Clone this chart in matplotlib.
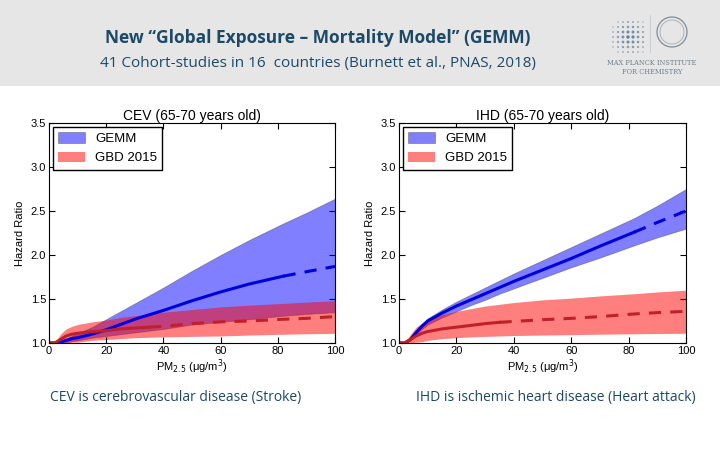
import numpy as np
import matplotlib.pyplot as plt
from matplotlib.patches import Rectangle, Ellipse
from matplotlib.lines import Line2D

# PM2.5 grid (ug/m3)
pm = [0, 2, 4, 6, 8, 10, 15, 20, 25, 30, 35, 40, 50, 60, 70, 82, 90, 100]

# CEV (stroke), 65-70 years
cev_gemm = [1.0, 1.0, 1.01, 1.03, 1.05, 1.06, 1.10, 1.15, 1.21, 1.27, 1.32, 1.37, 1.48, 1.58, 1.67, 1.76, 1.81, 1.87]
cev_gemm_lo = [1.0, 1.0, 1.0, 1.01, 1.02, 1.03, 1.06, 1.08, 1.10, 1.12, 1.14, 1.16, 1.21, 1.24, 1.27, 1.31, 1.33, 1.35]
cev_gemm_hi = [1.0, 1.0, 1.02, 1.05, 1.08, 1.11, 1.18, 1.27, 1.36, 1.45, 1.54, 1.63, 1.82, 2.0, 2.17, 2.36, 2.48, 2.64]
cev_gbd = [1.0, 1.0, 1.04, 1.08, 1.10, 1.11, 1.13, 1.14, 1.16, 1.17, 1.18, 1.19, 1.22, 1.24, 1.25, 1.27, 1.28, 1.30]
cev_gbd_lo = [1.0, 1.0, 1.0, 1.0, 1.01, 1.01, 1.03, 1.04, 1.05, 1.06, 1.065, 1.07, 1.075, 1.08, 1.09, 1.10, 1.105, 1.11]
cev_gbd_hi = [1.0, 1.0, 1.10, 1.16, 1.19, 1.21, 1.24, 1.26, 1.29, 1.31, 1.33, 1.35, 1.38, 1.41, 1.43, 1.45, 1.465, 1.48]

# IHD (heart attack), 65-70 years
ihd_gemm = [1.0, 1.0, 1.04, 1.12, 1.19, 1.25, 1.34, 1.42, 1.49, 1.56, 1.63, 1.70, 1.83, 1.96, 2.10, 2.26, 2.37, 2.50]
ihd_gemm_lo = [1.0, 1.0, 1.03, 1.10, 1.16, 1.21, 1.29, 1.36, 1.43, 1.49, 1.56, 1.62, 1.74, 1.86, 1.97, 2.11, 2.20, 2.30]
ihd_gemm_hi = [1.0, 1.0, 1.05, 1.14, 1.21, 1.28, 1.38, 1.47, 1.55, 1.63, 1.71, 1.79, 1.94, 2.09, 2.24, 2.42, 2.56, 2.75]
ihd_gbd = [1.0, 1.0, 1.04, 1.08, 1.11, 1.13, 1.16, 1.18, 1.20, 1.22, 1.235, 1.245, 1.265, 1.28, 1.30, 1.33, 1.345, 1.36]
ihd_gbd_lo = [1.0, 1.0, 1.0, 1.01, 1.015, 1.03, 1.05, 1.06, 1.07, 1.075, 1.08, 1.085, 1.09, 1.095, 1.10, 1.105, 1.108, 1.11]
ihd_gbd_hi = [1.0, 1.0, 1.10, 1.18, 1.23, 1.27, 1.32, 1.36, 1.39, 1.42, 1.44, 1.46, 1.49, 1.51, 1.535, 1.56, 1.58, 1.60]

gemm_cut = 82   # solid line up to here, dashed after
gbd_cut = 35

navy = '#1c4966'
W, H = 720.0, 450.0

fig = plt.figure(figsize=(7.2, 4.5), dpi=100)
fig.patch.set_facecolor('white')

# slide header
fig.patches.append(Rectangle((0, 1 - 86 / H), 1, 86 / H, transform=fig.transFigure,
                             facecolor='#e6e6e6', edgecolor='none', zorder=0))
fig.text(318 / W, 1 - 38 / H, 'New \u201cGlobal Exposure \u2013 Mortality Model\u201d (GEMM)',
         ha='center', va='center', fontsize=12.5, fontweight='bold', color=navy, family='Open Sans')
fig.text(318 / W, 1 - 63 / H, '41 Cohort-studies in 16  countries (Burnett et al., PNAS, 2018)',
         ha='center', va='center', fontsize=11, color=navy, family='Open Sans')

# rough logo
fig.text(652 / W, 1 - 63 / H, 'MAX PLANCK INSTITUTE', ha='center', va='center',
         fontsize=4.8, color='#6f7d8a', family='DejaVu Serif')
fig.text(652 / W, 1 - 72 / H, 'FOR CHEMISTRY', ha='center', va='center',
         fontsize=4.8, color='#6f7d8a', family='DejaVu Serif')
fig.patches.append(Ellipse((672 / W, 1 - 32 / H), 30 / W, 30 / H, transform=fig.transFigure,
                           facecolor='none', edgecolor='#7f8d9a', lw=0.9))
fig.patches.append(Ellipse((672 / W, 1 - 32 / H), 24 / W, 24 / H, transform=fig.transFigure,
                           facecolor='none', edgecolor='#a0aab4', lw=0.6))
fig.lines.append(Line2D([650 / W, 650 / W], [1 - 15 / H, 1 - 52 / H], transform=fig.transFigure,
                        color='#c4cbd2', lw=0.6))
for i in range(7):
    for j in range(7):
        d = np.hypot(i - 3.3, j - 3) / 4.2
        if d > 1:
            continue
        fig.patches.append(Ellipse(((613 + 5 * i) / W, 1 - (22 + 5 * j) / H),
                                   (3.6 - 2.2 * d) / W, (3.6 - 2.2 * d) / H,
                                   transform=fig.transFigure, facecolor='#4f6f8f',
                                   alpha=0.9 - 0.5 * d, edgecolor='none'))


def panel(ax, title, gemm, glo, ghi, gbd, blo, bhi):
    x = np.array(pm)
    ax.fill_between(x, glo, ghi, facecolor='blue', alpha=0.5, edgecolor='0.3', lw=0.6, label='GEMM')
    ax.fill_between(x, blo, bhi, color='red', alpha=0.5, lw=0, label='GBD 2015')
    gemm = np.array(gemm)
    gbd = np.array(gbd)
    m = x <= gemm_cut
    ax.plot(x[m], gemm[m], color='#0000dd', lw=2.2)
    ax.plot(x[x >= gemm_cut], gemm[x >= gemm_cut], color='#0000dd', lw=2.2, ls=(0, (4, 3)))
    m = x <= gbd_cut
    ax.plot(x[m], gbd[m], color='#c0202a', lw=2.2)
    ax.plot(x[x >= gbd_cut], gbd[x >= gbd_cut], color='#c0202a', lw=2.2, ls=(0, (4, 3)))
    ax.set_xlim(0, 100)
    ax.set_ylim(1.0, 3.5)
    ax.set_xticks([0, 20, 40, 60, 80, 100])
    ax.set_yticks([1.0, 1.5, 2.0, 2.5, 3.0, 3.5])
    ax.tick_params(direction='in', top=True, right=True, labelsize=8, length=4, pad=2)
    for lab in ax.get_xticklabels() + ax.get_yticklabels():
        lab.set_family('Liberation Sans')
    ax.set_title(title, fontsize=10, pad=2, family='Liberation Sans')
    ax.set_ylabel('Hazard Ratio', fontsize=8, labelpad=4, family='Liberation Sans')
    ax.set_xlabel('PM$_{2.5}$ (\u03bcg/m$^3$)', fontsize=8, labelpad=1, family='Liberation Sans')
    ax.legend(loc='upper left', fancybox=False, edgecolor='black', framealpha=1,
              borderaxespad=0.3, handlelength=2.0, handleheight=0.85,
              prop={'family': 'Liberation Sans', 'size': 9.5})


ax1 = fig.add_axes([49 / W, 1 - 343 / H, 286 / W, 220 / H])
panel(ax1, 'CEV (65-70 years old)', cev_gemm, cev_gemm_lo, cev_gemm_hi, cev_gbd, cev_gbd_lo, cev_gbd_hi)
ax2 = fig.add_axes([399 / W, 1 - 343 / H, 287 / W, 220 / H])
panel(ax2, 'IHD (65-70 years old)', ihd_gemm, ihd_gemm_lo, ihd_gemm_hi, ihd_gbd, ihd_gbd_lo, ihd_gbd_hi)

fig.text(50 / W, 1 - 397 / H, 'CEV is cerebrovascular disease (Stroke)', ha='left', va='center',
         fontsize=10, color=navy, family='Open Sans')
fig.text(416 / W, 1 - 397 / H, 'IHD is ischemic heart disease (Heart attack)', ha='left', va='center',
         fontsize=10, color=navy, family='Open Sans')

fig.savefig('out.png', dpi=100)
